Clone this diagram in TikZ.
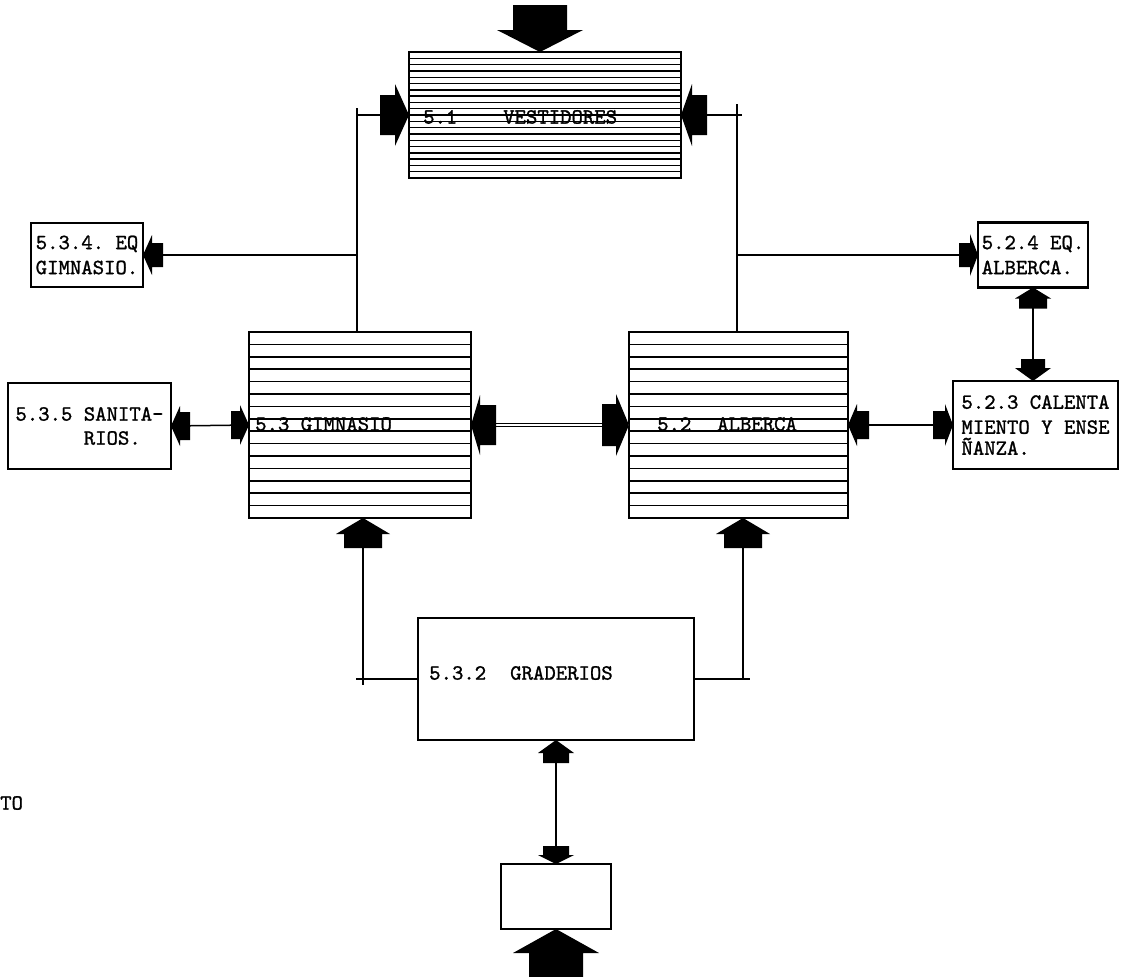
\documentclass[tikz,border=0pt]{standalone}
\usepackage{fontspec}
\setmonofont{lmmono10-regular}[Extension=.otf,FakeBold=1.2]
\begin{document}
\begin{tikzpicture}[x=1pt,y=-1pt,
  box/.style={draw,line width=2.2pt,inner sep=0pt,outer sep=0pt,rectangle},
  conn/.style={line width=1.5pt},
  stripe/.style={line width=1.7pt},
  fstripe/.style={line width=1.4pt},
  lbl/.style={font=\ttfamily\fontsize{21.7}{25}\selectfont,inner sep=0pt},
  pics/bhead/.style n args={4}{code={\fill[black] (0,0) -- (-#1,#2) -- (-#1,#4) -- (-#1-#3,#4) -- (-#1-#3,-#4) -- (-#1,-#4) -- (-#1,-#2) -- cycle;}}]
\useasboundingbox (0,0) rectangle (1122,977);
\fill[white] (0,0) rectangle (1122,977);

% boxes
\node[box,minimum width=272pt,minimum height=126pt] (ves) at (545,115) {};
\node[box,minimum width=222pt,minimum height=186pt] (gim) at (360,425) {};
\node[box,minimum width=219pt,minimum height=186pt] (alb) at (738.5,425) {};
\node[box,lbl,align=left,minimum width=112pt,minimum height=64pt] (eqg) at (87,255) {5.3.4. EQ\\GIMNASIO.};
\node[box,lbl,align=left,minimum width=163pt,minimum height=86pt] (san) at (89.5,426) {5.3.5 SANITA-\\[-1pt]\hphantom{5.3.5 }RIOS.};
\node[box,lbl,align=left,minimum width=110pt,minimum height=65pt] (eqa) at (1033,255) {5.2.4 EQ.\\ALBERCA.};
\node[box,lbl,align=left,minimum width=165pt,minimum height=88pt] (cal) at (1035.5,425) {5.2.3 CALENTA\\MIENTO Y ENSE\\[-4pt]ÑANZA.};
\node[box,minimum width=276pt,minimum height=122pt] (gra) at (556,679) {};
\node[box,minimum width=110pt,minimum height=65pt] (acc) at (556,896.5) {};

% stripes
\foreach \k in {1,...,19} \draw[fstripe] (410,{52+\k*6.3}) -- (680,{52+\k*6.3});
\foreach \k in {1,...,14} \draw[stripe] (250,{332+\k*12.4}) -- (470,{332+\k*12.4});
\foreach \k in {1,...,14} \draw[stripe] (630,{332+\k*12.4}) -- (847,{332+\k*12.4});

% labels in striped boxes
\node[lbl,anchor=west] (vesA) at (423,117) {5.1};
\node[lbl,anchor=west] (vesB) at (503,117) {VESTIDORES};
\node[lbl,anchor=west] (gimT) at (255,424) {5.3 GIMNASIO};
\node[lbl,anchor=west] (albA) at (657,424) {5.2};
\node[lbl,anchor=west] (albB) at (717,424) {ALBERCA};
\node[lbl,anchor=west] (graA) at (429,673) {5.3.2};
\node[lbl,anchor=west] (graB) at (510,673) {GRADERIOS};
\node[lbl,anchor=west] (to) at (0,803) {TO};

% connectors
\coordinate (jL) at (357,115);
\coordinate (jR) at (737,115);
\draw[conn] (jL |- gim.north) -- (jL) -- (ves.west);
\draw[conn] (jL) -- ++(0,-7);
\draw[conn] (jL |- eqg.east) -- (eqg.east);
\draw[conn] (jR |- alb.north) -- (jR) -- (ves.east);
\draw[conn] (jR) -- ++(0,-11) (jR) -- ++(5,0);
\draw[conn] (jR |- eqa.west) -- (eqa.west);
\draw[conn] (san.east) -- (gim.west);
\draw[double,double distance=1.2pt,line width=1.2pt] (gim.east) -- (alb.west);
\draw[conn] (alb.east) -- (cal.west);
\draw[conn] (eqa.south) -- (eqa.south |- cal.north);
\coordinate (gL) at (363,679);
\coordinate (gR) at (743,679);
\draw[conn] (gra.west) -- (gL) -- (gL |- gim.south);
\draw[conn] (gL) -- ++(-7,0) (gL) -- ++(0,6);
\draw[conn] (gra.east) -- (gR) -- (gR |- alb.south);
\draw[conn] (gR) -- ++(7,0);
\draw[conn] (gra.south) -- (acc.north);

% block arrow heads
\pic[rotate=270] at ([xshift=-5pt]ves.north) {bhead={22}{43}{25}{27}};
\pic at (ves.west) {bhead={14}{31}{15}{20}};
\pic[rotate=180] at (ves.east) {bhead={11}{31}{15}{20}};
\pic[rotate=180] at (eqg.east) {bhead={9}{20}{11}{12}};
\pic[rotate=180] at (san.east) {bhead={9}{20}{10}{14}};
\pic at (gim.west) {bhead={9}{20}{9}{14}};
\pic[rotate=180] at (gim.east) {bhead={9}{30}{16}{20}};
\pic at (alb.west) {bhead={13}{31}{14}{21}};
\pic[rotate=180] at (alb.east) {bhead={9}{21}{12}{14}};
\pic at (cal.west) {bhead={8}{21}{12}{14}};
\pic at (eqa.west) {bhead={8}{21}{11}{12}};
\pic[rotate=90] at (eqa.south) {bhead={11}{18}{10}{14}};
\pic[rotate=270] at (eqa.south |- cal.north) {bhead={13}{18}{9}{12}};
\pic[rotate=90] at (gL |- gim.south) {bhead={16}{27}{14}{19}};
\pic[rotate=90] at (gR |- alb.south) {bhead={16}{27}{14}{19}};
\pic[rotate=90] at (gra.south) {bhead={13}{18}{10}{13}};
\pic[rotate=270] at (acc.north) {bhead={9}{18}{9}{13}};
\pic[rotate=90] at (acc.south) {bhead={24}{43}{30}{27}};
\end{tikzpicture}
\end{document}
